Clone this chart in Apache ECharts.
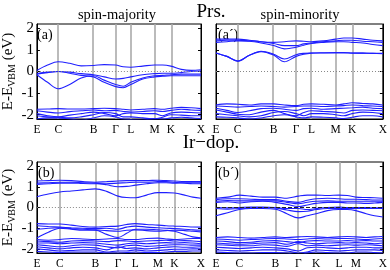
<!DOCTYPE html>
<html><head><meta charset="utf-8">
<script src="https://cdn.jsdelivr.net/npm/echarts@6/dist/echarts.min.js"></script>
<style>html,body{margin:0;padding:0;background:#fff}#c{width:390px;height:270px}</style>
</head><body><div id="c"></div>
<script>
// k-path sample positions (fraction of path)
const kTop = [0,0.065,0.13,0.2,0.27,0.345,0.41,0.48,0.526,0.572,0.645,0.717,0.766,0.816,0.88,0.94,1.0];
const kBot = [0,0.07,0.14,0.21,0.28,0.356,0.425,0.494,0.547,0.6,0.668,0.737,0.787,0.838,0.9,0.95,1.0];
// high-symmetry points
const symTop = [0,0.13,0.345,0.48,0.572,0.717,0.816,1];
const symBot = [0,0.14,0.356,0.494,0.6,0.737,0.838,1];
const labTopA = ['E','C','B','Γ','L','M','K','X'];
const labTopA2 = ['E','C','B','Γ','L','M','K','X'];
const labBotB = ['E','C','B','Γ','L','M','K','X'];
const labBotB2 = ['E','C','B','Γ','K','L','M','X'];
const yTicks = [-2,-1,0,1,2];

// Panel (a): Prs. spin-majority
const bandsA = [
 [0.05,0.3,0.45,0.38,0.26,0.28,0.32,0.3,0.22,0.2,0.25,0.3,0.3,0.25,0.1,0.05,0.08],
 [-0.1,-0.03,0.0,-0.03,-0.1,-0.15,-0.25,-0.35,-0.32,-0.25,-0.15,-0.1,-0.08,-0.08,-0.05,0.0,0.02],
 [-0.15,-0.5,-0.8,-0.6,-0.3,-0.2,-0.4,-0.6,-0.68,-0.5,-0.3,-0.2,-0.18,-0.15,-0.12,-0.12,-0.12],
 [-0.12,-0.05,0.0,-0.08,-0.18,-0.25,-0.5,-0.7,-0.75,-0.6,-0.35,-0.25,-0.22,-0.2,-0.2,-0.2,-0.2],
 [-1.75,-1.74,-1.72,-1.74,-1.74,-1.72,-1.7,-1.72,-1.75,-1.78,-1.75,-1.72,-1.75,-1.7,-1.66,-1.68,-1.72],
 [-1.82,-1.88,-1.92,-1.86,-1.82,-1.78,-1.82,-1.8,-1.85,-1.88,-1.85,-1.82,-1.85,-1.8,-1.75,-1.78,-1.8],
 [-1.95,-2.05,-2.1,-2.02,-1.95,-1.88,-1.95,-2.05,-1.95,-1.92,-1.95,-1.95,-2.05,-1.92,-1.88,-1.9,-1.92],
 [-2.05,-2.1,-2.12,-2.15,-2.1,-2.0,-1.9,-1.95,-2.1,-2.1,-2.15,-2.2,-2.12,-2.0,-2.02,-2.05,-2.05],
 [-2.2,-2.15,-2.15,-2.2,-2.25,-2.15,-2.05,-2.1,-2.2,-2.22,-2.25,-2.18,-2.2,-2.15,-2.12,-2.15,-2.18]
];
// Panel (a'): Prs. spin-minority
const bandsA2 = [
 [1.5,1.5,1.5,1.45,1.38,1.35,1.38,1.42,1.4,1.38,1.42,1.5,1.55,1.55,1.5,1.45,1.42],
 [1.42,1.45,1.45,1.42,1.38,1.3,1.2,1.2,1.28,1.32,1.38,1.42,1.45,1.45,1.4,1.38,1.35],
 [1.35,1.38,1.42,1.4,1.32,1.2,1.05,1.12,1.22,1.3,1.35,1.38,1.38,1.35,1.32,1.25,1.2],
 [0.86,0.7,0.48,0.75,0.94,0.8,0.58,0.78,0.84,0.86,0.86,0.86,0.86,0.85,0.85,0.84,0.83],
 [0.86,0.7,0.48,0.75,0.92,0.76,0.45,0.7,0.8,0.85,0.87,0.88,0.88,0.86,0.85,0.84,0.84],
 [-1.55,-1.5,-1.52,-1.55,-1.5,-1.5,-1.55,-1.58,-1.52,-1.5,-1.52,-1.55,-1.5,-1.45,-1.48,-1.5,-1.55],
 [-1.6,-1.62,-1.65,-1.62,-1.6,-1.62,-1.65,-1.62,-1.6,-1.6,-1.62,-1.6,-1.58,-1.55,-1.58,-1.6,-1.62],
 [-1.7,-1.8,-1.9,-1.82,-1.72,-1.7,-1.75,-1.8,-1.72,-1.7,-1.75,-1.72,-1.7,-1.68,-1.65,-1.7,-1.72],
 [-1.78,-1.88,-1.98,-2.0,-1.88,-1.8,-1.95,-2.05,-1.9,-1.82,-1.85,-1.88,-1.92,-1.8,-1.78,-1.8,-1.82],
 [-1.95,-2.0,-2.05,-2.1,-2.05,-1.9,-1.85,-1.95,-2.05,-1.95,-1.95,-2.0,-2.05,-1.95,-1.88,-1.9,-1.95],
 [-2.1,-2.12,-2.15,-2.2,-2.15,-2.05,-2.0,-2.1,-2.15,-2.1,-2.12,-2.15,-2.18,-2.12,-2.05,-2.05,-2.1]
];
// Panel (b): Ir-dop. spin-majority
const bandsB = [
 [1.28,1.3,1.32,1.3,1.25,1.22,1.25,1.28,1.3,1.3,1.3,1.32,1.3,1.28,1.25,1.25,1.25],
 [1.18,1.2,1.22,1.22,1.2,1.18,1.1,1.0,1.02,1.08,1.15,1.2,1.2,1.18,1.2,1.2,1.2],
 [1.12,1.15,1.18,1.18,1.16,1.15,1.15,1.18,1.2,1.22,1.22,1.25,1.25,1.22,1.18,1.15,1.15],
 [0.52,0.65,0.75,0.8,0.85,0.9,0.78,0.55,0.48,0.47,0.6,0.72,0.72,0.7,0.6,0.5,0.45],
 [-0.78,-0.8,-0.8,-0.85,-0.92,-0.95,-0.92,-0.9,-0.82,-0.78,-0.82,-0.85,-0.88,-0.9,-0.92,-0.94,-0.95],
 [-0.88,-0.92,-0.95,-0.98,-1.0,-1.02,-1.0,-1.05,-0.95,-0.9,-0.95,-0.98,-1.0,-1.02,-1.05,-1.08,-1.1],
 [-1.47,-1.2,-1.0,-1.05,-1.1,-1.1,-1.3,-1.45,-1.25,-1.05,-1.05,-1.08,-1.1,-1.15,-1.3,-1.42,-1.47],
 [-1.05,-1.0,-0.98,-1.02,-1.05,-1.08,-1.12,-1.15,-1.1,-1.08,-1.12,-1.15,-1.12,-1.1,-1.12,-1.15,-1.18],
 [-1.55,-1.58,-1.55,-1.5,-1.52,-1.55,-1.52,-1.5,-1.55,-1.55,-1.5,-1.48,-1.52,-1.55,-1.52,-1.5,-1.5],
 [-1.62,-1.65,-1.68,-1.62,-1.6,-1.62,-1.65,-1.6,-1.62,-1.65,-1.62,-1.6,-1.58,-1.62,-1.6,-1.62,-1.65],
 [-1.72,-1.72,-1.75,-1.72,-1.7,-1.72,-1.78,-1.82,-1.75,-1.72,-1.75,-1.72,-1.7,-1.72,-1.7,-1.72,-1.75],
 [-1.8,-1.85,-1.9,-1.85,-1.8,-1.82,-1.9,-1.95,-1.85,-1.82,-1.88,-1.85,-1.82,-1.8,-1.8,-1.82,-1.82],
 [-1.9,-1.95,-2.0,-1.95,-1.92,-1.95,-2.05,-1.9,-1.98,-1.95,-2.0,-1.95,-1.92,-1.9,-1.92,-1.92,-1.9],
 [-2.0,-2.05,-2.1,-2.08,-2.05,-2.05,-2.15,-2.1,-2.1,-2.05,-2.1,-2.08,-2.05,-2.02,-2.02,-2.0,-2.0],
 [-2.12,-2.15,-2.18,-2.15,-2.15,-2.15,-2.2,-2.2,-2.18,-2.15,-2.18,-2.18,-2.15,-2.12,-2.12,-2.1,-2.1]
];
// Panel (b'): Ir-dop. spin-minority
const bandsB2 = [
 [0.45,0.5,0.6,0.55,0.5,0.5,0.45,0.55,0.6,0.6,0.58,0.6,0.58,0.5,0.48,0.47,0.45],
 [0.38,0.42,0.42,0.4,0.38,0.38,0.3,0.25,0.35,0.42,0.45,0.42,0.4,0.4,0.38,0.36,0.36],
 [0.3,0.34,0.32,0.32,0.33,0.32,0.25,0.18,0.25,0.3,0.32,0.3,0.3,0.3,0.3,0.3,0.3],
 [0.25,0.28,0.22,0.28,0.3,0.25,0.15,0.05,0.12,0.2,0.25,0.25,0.22,0.22,0.2,0.22,0.25],
 [0.0,-0.02,0.0,0.02,0.02,0.0,-0.05,-0.05,-0.1,-0.05,0.0,0.02,0.0,0.0,0.0,-0.02,0.0],
 [-0.05,-0.08,-0.05,-0.02,0.0,-0.02,-0.12,-0.2,-0.18,-0.1,-0.05,-0.05,-0.05,-0.05,-0.05,-0.05,-0.05],
 [-0.4,-0.25,-0.1,-0.05,-0.05,-0.08,-0.3,-0.5,-0.4,-0.3,-0.15,-0.1,-0.1,-0.15,-0.3,-0.4,-0.46],
 [-1.45,-1.42,-1.45,-1.48,-1.45,-1.42,-1.45,-1.42,-1.4,-1.42,-1.45,-1.42,-1.4,-1.42,-1.45,-1.42,-1.4],
 [-1.52,-1.55,-1.58,-1.55,-1.52,-1.5,-1.52,-1.55,-1.52,-1.5,-1.52,-1.5,-1.5,-1.52,-1.55,-1.52,-1.5],
 [-1.62,-1.65,-1.7,-1.68,-1.62,-1.6,-1.65,-1.7,-1.62,-1.6,-1.62,-1.62,-1.6,-1.62,-1.6,-1.62,-1.62],
 [-1.72,-1.75,-1.78,-1.75,-1.72,-1.7,-1.78,-1.65,-1.72,-1.75,-1.72,-1.7,-1.72,-1.7,-1.72,-1.75,-1.72],
 [-1.8,-1.82,-1.85,-1.85,-1.8,-1.82,-1.88,-1.75,-1.85,-1.82,-1.85,-1.82,-1.8,-1.82,-1.8,-1.82,-1.85],
 [-1.92,-1.95,-1.98,-1.95,-1.92,-1.95,-2.0,-2.1,-1.95,-1.92,-1.95,-1.98,-1.95,-1.92,-1.92,-1.95,-1.95],
 [-2.05,-2.08,-2.1,-2.08,-2.05,-2.05,-2.1,-2.2,-2.15,-2.05,-2.08,-2.1,-2.08,-2.05,-2.05,-2.05,-2.08],
 [-2.15,-2.18,-2.2,-2.2,-2.18,-2.18,-2.2,-2.3,-2.2,-2.15,-2.18,-2.2,-2.2,-2.15,-2.15,-2.18,-2.2]
];

const FONT = '"Liberation Serif", "DejaVu Serif", serif';
const BAND = '#1f1fff';
const panels = [
  {k:kTop, sym:symTop, lab:labTopA,  bands:bandsA,  grid:{left:35, top:24, width:166, height:95}, yl:true,  zero:{color:'#888', type:[1,2], width:1}},
  {k:kTop, sym:symTop, lab:labTopA2, bands:bandsA2, grid:{left:216,top:24, width:168, height:95}, yl:false, zero:{color:'#888', type:[1,2], width:1}},
  {k:kBot, sym:symBot, lab:labBotB,  bands:bandsB,  grid:{left:35, top:162,width:166, height:94}, yl:true,  zero:{color:'#888', type:[1,2], width:1}},
  {k:kBot, sym:symBot, lab:labBotB2, bands:bandsB2, grid:{left:216,top:162,width:168, height:94}, yl:false, zero:{color:'#222', type:[4,2], width:1.2}}
];

const grid=[], xAxis=[], yAxis=[], series=[];
panels.forEach((p,i)=>{
  grid.push(Object.assign({show:true, borderColor:'#000', borderWidth:1, backgroundColor:'transparent'}, p.grid));
  xAxis.push({gridIndex:i, type:'value', min:0, max:1,
    axisLine:{show:true, onZero:false, lineStyle:{color:'#000', width:1}},
    axisTick:{show:false}, splitLine:{show:false},
    axisLabel:{show:true, customValues:p.sym, margin:5, fontFamily:FONT, fontSize:11.5, color:'#000',
      formatter:(v)=>{const j=p.sym.findIndex(s=>Math.abs(s-v)<1e-6); return j>=0?p.lab[j]:'';}}
  });
  const yBase = {gridIndex:i, type:'value', min:-2.2, max:2.2, splitLine:{show:false},
    axisLine:{show:true, onZero:false, lineStyle:{color:'#000', width:1}},
    axisTick:{show:true, inside:true, length:3, customValues:yTicks, lineStyle:{color:'#000'}}};
  yAxis.push(Object.assign({}, yBase, {position:'left',
    axisLabel:{show:p.yl, customValues:yTicks, margin:3, fontFamily:FONT, fontSize:15, color:'#000',
      formatter:(v)=>String(Math.round(v))},
    name: p.yl ? '{a|E-E}{s|VBM}{a| (eV)}' : '', nameLocation:'middle', nameRotate:90, nameGap:18,
    nameTextStyle:{rich:{a:{fontFamily:FONT, fontSize:15, color:'#000'}, s:{fontFamily:FONT, fontSize:10, color:'#000', padding:[8,0,0,0]}}}
  }));
  yAxis.push(Object.assign({}, yBase, {position:'right', axisLabel:{show:false}}));
  // high-symmetry vertical lines (under the bands)
  series.push({type:'line', xAxisIndex:i, yAxisIndex:2*i, data:[], z:1, silent:true,
    markLine:{z:1, silent:true, symbol:'none', label:{show:false}, animation:false,
      lineStyle:{color:'#aaa', width:1.6, type:'solid'},
      data:p.sym.slice(1,-1).map(v=>({xAxis:v}))}});
  p.bands.forEach(b=>{
    series.push({type:'line', xAxisIndex:i, yAxisIndex:2*i, z:3, smooth:0.35, showSymbol:false, symbol:'none',
      silent:true, animation:false, clip:true,
      lineStyle:{color:BAND, width:1.1}, data:p.k.map((x,j)=>[x,b[j]])});
  });
  series.push({type:'line', xAxisIndex:i, yAxisIndex:2*i, data:[], z:5, silent:true,
    markLine:{z:5, silent:true, symbol:'none', label:{show:false}, animation:false,
      lineStyle:p.zero, data:[{yAxis:0}]}});
});

const chart = echarts.init(document.getElementById('c'), null, {renderer:'canvas'});
chart.setOption({
  animation:false, backgroundColor:'#fff',
  grid, xAxis, yAxis, series,
  graphic:[
    {type:'text', style:{text:'Prs.', font:'19px '+FONT, fill:'#000', x:211, y:12, textAlign:'center', textVerticalAlign:'middle'}},
    {type:'text', style:{text:'spin-majority', font:'14.5px '+FONT, fill:'#000', x:117, y:15, textAlign:'center', textVerticalAlign:'middle'}},
    {type:'text', style:{text:'spin-minority', font:'14.5px '+FONT, fill:'#000', x:300, y:15, textAlign:'center', textVerticalAlign:'middle'}},
    {type:'text', style:{text:'Ir\u2212dop.', font:'19px '+FONT, fill:'#000', x:211, y:143, textAlign:'center', textVerticalAlign:'middle'}},
    {type:'text', style:{text:'(a)', font:'14px '+FONT, fill:'#000', x:37, y:35, textAlign:'left', textVerticalAlign:'middle'}},
    {type:'text', style:{text:'(a\u00b4)', font:'14px '+FONT, fill:'#000', x:218, y:35, textAlign:'left', textVerticalAlign:'middle'}},
    {type:'text', style:{text:'(b)', font:'14px '+FONT, fill:'#000', x:38, y:173, textAlign:'left', textVerticalAlign:'middle'}},
    {type:'text', style:{text:'(b\u00b4)', font:'14px '+FONT, fill:'#000', x:218, y:173, textAlign:'left', textVerticalAlign:'middle'}}
  ]
});
</script></body></html>
